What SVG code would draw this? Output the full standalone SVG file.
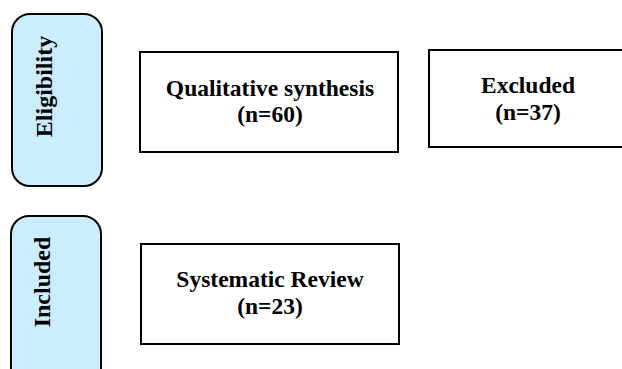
<svg xmlns="http://www.w3.org/2000/svg" width="622" height="369" viewBox="0 0 622 369">
<style>
.stage{fill:#CCECFF;stroke:#000;stroke-width:2}
.box{fill:#fff;stroke:#000;stroke-width:2}
.t{font-family:"Liberation Serif","Times New Roman",serif;font-weight:bold;font-size:23.5px;fill:#000;text-anchor:middle}
.lbl{font-family:"Liberation Serif","Times New Roman",serif;font-weight:bold;font-size:24px;fill:#000;text-anchor:middle}
</style>
<rect width="622" height="369" fill="#fff"/>
<g id="stage-eligibility">
<rect class="stage" x="12" y="14" width="90" height="172" rx="18" ry="18"/>
<text class="lbl" transform="translate(52,86.5) rotate(-90)">Eligibility</text>
</g>
<g id="stage-included">
<rect class="stage" x="11" y="216" width="90" height="170" rx="18" ry="18"/>
<text class="lbl" transform="translate(50,282) rotate(-90)">Included</text>
</g>
<g id="node-qualitative">
<rect class="box" x="140" y="52" width="258" height="100"/>
<text class="t" x="270" y="96">Qualitative synthesis</text>
<text class="t" x="270" y="122">(n=60)</text>
</g>
<g id="node-excluded">
<rect class="box" x="429" y="50" width="200" height="97"/>
<text class="t" x="528" y="93">Excluded</text>
<text class="t" x="528" y="120">(n=37)</text>
</g>
<g id="node-systematic">
<rect class="box" x="141" y="244" width="258" height="100"/>
<text class="t" x="270" y="287">Systematic Review</text>
<text class="t" x="270" y="314">(n=23)</text>
</g>
<g id="connectors"></g>
</svg>
